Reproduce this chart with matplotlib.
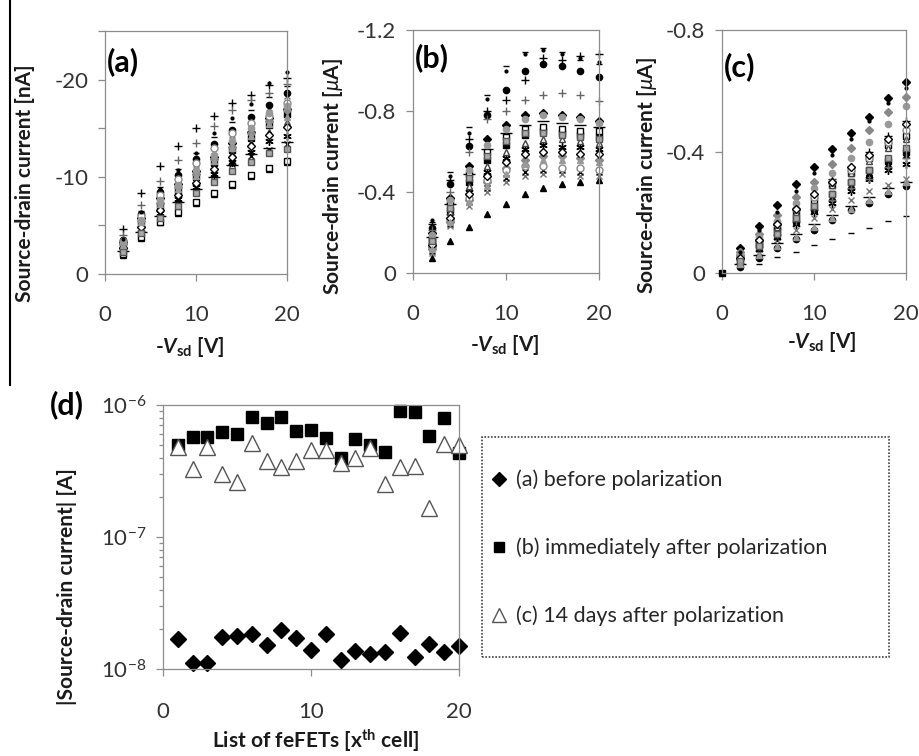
#!/usr/bin/env python3
"""feFET source-drain current: output curves (a)-(c) and cell-by-cell summary (d)."""
import numpy as np
import matplotlib
matplotlib.use("Agg")
import matplotlib.pyplot as plt
from matplotlib.patches import Rectangle
from matplotlib.lines import Line2D
from matplotlib.ticker import FixedLocator, FuncFormatter, LogLocator, NullFormatter

plt.rcParams["font.family"] = ["Lato", "DejaVu Sans"]
plt.rcParams["axes.unicode_minus"] = False
plt.rcParams["mathtext.fontset"] = "custom"
plt.rcParams["mathtext.rm"] = "Lato"
plt.rcParams["mathtext.it"] = "Lato:italic"
plt.rcParams["mathtext.bf"] = "Lato:bold"
plt.rcParams["mathtext.bfit"] = "Lato:bold:italic"

# ---- data (magnitudes; the panels plot them as negative currents) ----
VSD = [2, 4, 6, 8, 10, 12, 14, 16, 18, 20]
VSD_C = [0, 2, 4, 6, 8, 10, 12, 14, 16, 18, 20]

# (a) before polarization, nA, one row per cell
A_CURRENT_NA = [
    [3.3, 5.8, 7.8, 9.3, 10.6, 12.0, 13.5, 14.6, 16.0, 17.0],
    [3.0, 5.2, 7.1, 8.6, 10.0, 11.4, 12.8, 14.0, 15.3, 16.5],
    [2.0, 3.7, 5.3, 6.3, 7.3, 8.2, 9.2, 10.1, 10.8, 11.5],
    [2.9, 5.4, 7.5, 9.2, 10.8, 12.6, 14.3, 15.8, 17.1, 18.3],
    [2.6, 4.6, 6.3, 7.7, 9.0, 10.3, 11.5, 12.6, 13.7, 14.2],
    [3.5, 6.2, 8.4, 10.2, 11.8, 13.4, 14.8, 16.2, 17.4, 18.6],
    [4.6, 8.3, 11.1, 13.2, 15.0, 16.3, 17.6, 18.4, 19.4, 20.2],
    [3.7, 6.5, 8.9, 10.8, 12.5, 14.1, 15.6, 16.9, 18.2, 19.3],
    [2.4, 4.3, 6.0, 7.4, 8.7, 10.0, 11.2, 12.3, 13.0, 13.6],
    [3.1, 5.5, 7.3, 8.9, 10.3, 11.8, 13.1, 14.5, 15.7, 16.9],
    [2.1, 3.8, 5.4, 6.4, 7.4, 8.3, 9.3, 10.2, 10.9, 11.6],
    [2.8, 5.0, 6.8, 8.3, 9.7, 11.0, 12.3, 13.5, 14.6, 15.6],
    [2.5, 4.5, 6.2, 7.6, 8.9, 10.2, 11.3, 12.1, 12.8, 13.4],
    [3.4, 6.0, 8.1, 9.8, 11.4, 13.0, 14.5, 15.5, 16.3, 17.6],
    [4.0, 7.1, 9.6, 11.7, 13.5, 15.2, 16.9, 17.9, 18.6, 19.5],
    [3.2, 5.6, 7.6, 9.2, 10.7, 12.2, 13.7, 15.0, 16.6, 17.3],
    [2.7, 4.8, 6.6, 8.1, 9.4, 10.8, 12.0, 13.2, 14.3, 15.1],
    [2.3, 4.2, 5.8, 7.0, 8.3, 9.5, 10.6, 11.5, 12.4, 12.9],
    [3.0, 5.3, 7.2, 8.7, 10.1, 11.6, 13.0, 14.2, 15.4, 16.2],
    [3.6, 6.4, 8.7, 10.7, 12.4, 14.5, 16.0, 17.5, 19.6, 20.8],
]

# (b) immediately after polarization, uA
B_CURRENT_UA = [
    [0.20, 0.37, 0.53, 0.66, 0.73, 0.78, 0.79, 0.78, 0.77, 0.75],
    [0.16, 0.31, 0.45, 0.56, 0.63, 0.68, 0.70, 0.69, 0.68, 0.67],
    [0.074, 0.156, 0.225, 0.29, 0.34, 0.39, 0.42, 0.44, 0.45, 0.46],
    [0.10, 0.23, 0.33, 0.40, 0.45, 0.48, 0.49, 0.49, 0.48, 0.48],
    [0.14, 0.28, 0.40, 0.50, 0.57, 0.61, 0.63, 0.62, 0.62, 0.61],
    [0.22, 0.44, 0.625, 0.78, 0.905, 1.00, 1.03, 1.02, 1.00, 0.97],
    [0.24, 0.46, 0.66, 0.80, 0.855, 0.955, 1.06, 1.05, 1.07, 1.08],
    [0.25, 0.50, 0.72, 0.88, 1.02, 1.09, 1.11, 1.09, 1.05, 1.03],
    [0.18, 0.34, 0.49, 0.61, 0.69, 0.73, 0.75, 0.74, 0.73, 0.72],
    [0.12, 0.25, 0.36, 0.45, 0.52, 0.56, 0.58, 0.58, 0.57, 0.56],
    [0.17, 0.35, 0.49, 0.60, 0.67, 0.71, 0.72, 0.71, 0.70, 0.70],
    [0.15, 0.30, 0.43, 0.53, 0.60, 0.64, 0.66, 0.66, 0.65, 0.64],
    [0.11, 0.24, 0.35, 0.42, 0.47, 0.50, 0.51, 0.51, 0.50, 0.50],
    [0.13, 0.26, 0.37, 0.46, 0.51, 0.53, 0.53, 0.52, 0.52, 0.51],
    [0.21, 0.40, 0.60, 0.76, 0.80, 0.855, 0.88, 0.89, 0.88, 0.85],
    [0.19, 0.36, 0.51, 0.63, 0.71, 0.76, 0.78, 0.77, 0.76, 0.74],
    [0.14, 0.27, 0.39, 0.48, 0.55, 0.59, 0.60, 0.60, 0.59, 0.59],
    [0.16, 0.32, 0.47, 0.58, 0.65, 0.69, 0.69, 0.68, 0.67, 0.66],
    [0.12, 0.25, 0.35, 0.43, 0.49, 0.54, 0.56, 0.56, 0.56, 0.55],
    [0.26, 0.48, 0.69, 0.86, 1.00, 1.08, 1.10, 1.08, 1.06, 1.04],
]

# (c) 14 days after polarization, uA (first column is Vsd = 0)
C_CURRENT_UA = [
    [None, 0.082, 0.156, 0.225, 0.293, 0.35, 0.408, 0.462, 0.515, 0.575, 0.63],
    [0.0, 0.05, 0.10, 0.14, 0.18, 0.22, 0.26, 0.30, 0.34, 0.37, 0.40],
    [None, 0.04, 0.09, 0.13, 0.17, 0.21, 0.25, 0.29, 0.33, 0.36, 0.39],
    [None, 0.03, 0.07, 0.11, 0.14, 0.18, 0.21, 0.24, 0.27, 0.29, 0.31],
    [None, 0.04, 0.08, 0.12, 0.16, 0.20, 0.23, 0.27, 0.31, 0.34, 0.36],
    [None, 0.02, 0.05, 0.082, 0.113, 0.142, 0.173, 0.206, 0.232, 0.26, 0.287],
    [None, 0.06, 0.11, 0.16, 0.21, 0.26, 0.31, 0.35, 0.40, 0.45, 0.50],
    [None, 0.016, 0.03, 0.052, 0.069, 0.091, 0.112, 0.131, 0.148, 0.172, 0.188],
    [None, 0.03, 0.06, 0.10, 0.13, 0.16, 0.19, 0.22, 0.25, 0.28, 0.30],
    [None, 0.07, 0.13, 0.19, 0.25, 0.30, 0.36, 0.41, 0.47, 0.53, 0.58],
    [None, 0.05, 0.10, 0.15, 0.20, 0.24, 0.29, 0.33, 0.38, 0.42, 0.45],
    [None, 0.05, 0.10, 0.15, 0.20, 0.25, 0.29, 0.33, 0.37, 0.41, 0.44],
    [None, 0.04, 0.08, 0.12, 0.17, 0.21, 0.25, 0.29, 0.33, 0.37, 0.41],
    [None, 0.06, 0.11, 0.16, 0.21, 0.25, 0.30, 0.34, 0.38, 0.43, 0.47],
    [None, 0.05, 0.09, 0.13, 0.17, 0.21, 0.24, 0.28, 0.31, 0.35, 0.38],
    [None, 0.06, 0.12, 0.17, 0.23, 0.28, 0.33, 0.38, 0.43, 0.49, 0.55],
    [None, 0.05, 0.11, 0.16, 0.21, 0.26, 0.30, 0.35, 0.39, 0.44, 0.49],
    [None, 0.04, 0.09, 0.13, 0.18, 0.22, 0.26, 0.30, 0.34, 0.38, 0.41],
    [None, 0.03, 0.06, 0.09, 0.12, 0.15, 0.18, 0.21, 0.24, 0.27, 0.30],
    [None, 0.07, 0.14, 0.20, 0.27, 0.33, 0.39, 0.44, 0.50, 0.56, 0.61],
]

# (d) |I_sd| per cell, A
CELLS = list(range(1, 21))
D_BEFORE = [1.70e-8, 1.12e-8, 1.12e-8, 1.74e-8, 1.77e-8, 1.85e-8, 1.51e-8, 1.99e-8,
            1.72e-8, 1.40e-8, 1.85e-8, 1.18e-8, 1.38e-8, 1.31e-8, 1.35e-8, 1.88e-8,
            1.23e-8, 1.55e-8, 1.34e-8, 1.50e-8]
D_IMMEDIATE = [5.0e-7, 5.75e-7, 5.7e-7, 6.2e-7, 6.0e-7, 8.15e-7, 7.26e-7, 8.1e-7,
               6.38e-7, 6.45e-7, 5.58e-7, 3.94e-7, 5.5e-7, 4.97e-7, 4.42e-7, 9.0e-7,
               8.9e-7, 5.8e-7, 8.0e-7, 4.35e-7]
D_14DAYS = [4.83e-7, 3.3e-7, 4.8e-7, 2.99e-7, 2.59e-7, 5.18e-7, 3.78e-7, 3.4e-7,
            3.78e-7, 4.6e-7, 4.6e-7, 3.65e-7, 4.0e-7, 4.7e-7, 2.5e-7, 3.4e-7,
            3.45e-7, 1.66e-7, 5.05e-7, 4.97e-7]
D_LABELS = ["(a) before polarization",
            "(b) immediately after polarization",
            "(c) 14 days after polarization"]

# Excel-like marker cycle, one per cell
STYLES = [
    dict(marker="D", mfc="k", mec="k", ms=4),
    dict(marker="s", mfc="k", mec="k", ms=4),
    dict(marker="^", mfc="k", mec="k", ms=5),
    dict(marker="x", mfc="none", mec="#777777", ms=5),
    dict(marker=(6, 2, 0), mfc="none", mec="k", ms=6),
    dict(marker="o", mfc="k", mec="k", ms=4.5),
    dict(marker="+", mfc="none", mec="k", ms=6),
    dict(marker="_", mfc="none", mec="k", ms=5),
    dict(marker="_", mfc="none", mec="k", ms=8),
    dict(marker="D", mfc="#888888", mec="#888888", ms=4),
    dict(marker="s", mfc="white", mec="k", ms=4.5),
    dict(marker="^", mfc="white", mec="#444444", ms=5),
    dict(marker="x", mfc="none", mec="k", ms=5),
    dict(marker="o", mfc="white", mec="#888888", ms=5),
    dict(marker="+", mfc="none", mec="#666666", ms=6),
    dict(marker="o", mfc="#999999", mec="#999999", ms=4.5),
    dict(marker="D", mfc="white", mec="k", ms=4),
    dict(marker="s", mfc="#aaaaaa", mec="#555555", ms=4.5),
    dict(marker="^", mfc="#999999", mec="#999999", ms=5),
    dict(marker=".", mfc="k", mec="k", ms=4),
]

W, H = 920, 756
SPINE = "#8c8c8c"
TICKTXT = "#333333"
LABEL = "#1a1a1a"


def box(left, top, right, bottom):
    return [left / W, 1 - bottom / H, (right - left) / W, (bottom - top) / H]


def style_axes(ax, xpad=20):
    for s in ax.spines.values():
        s.set_color(SPINE)
        s.set_linewidth(0.9)
    ax.tick_params(which="both", direction="out", color=SPINE, labelcolor=TICKTXT,
                   labelsize=16, width=0.9)
    ax.tick_params(axis="x", which="major", length=5, pad=xpad)
    ax.tick_params(axis="y", which="major", length=5, pad=7)


def curve_panel(ax, vsd, data, ymax, yticks, fmt, tag, tag_y, ylabel, ylab_xy, xlab_xy):
    for vals, st in zip(data, STYLES):
        ax.plot(vsd, -np.array(vals, dtype=float), linestyle="none",
                markeredgewidth=1.0, clip_on=False, **st)
    ax.set_xlim(0, 20)
    ax.set_ylim(0, -ymax)
    ax.xaxis.set_major_locator(FixedLocator([0, 10, 20]))
    ax.yaxis.set_major_locator(FixedLocator(yticks))
    ax.yaxis.set_major_formatter(FuncFormatter(fmt))
    style_axes(ax, xpad=17)
    ax.text(0.012, tag_y, tag, transform=ax.transAxes, fontsize=22,
            fontweight="bold", va="center", ha="left", color="k")
    ax.set_ylabel(ylabel, fontsize=15, fontweight="bold", color=LABEL, va="center")
    ax.yaxis.set_label_coords(*ylab_xy)
    ax.set_xlabel(r"-$\mathbfit{V}_{\mathbf{sd}}$ [V]", fontsize=15,
                  fontweight="bold", color=LABEL, va="center")
    ax.xaxis.set_label_coords(*xlab_xy)


def fmt_a(v, pos):
    if round(v) % 10:
        return ""
    return "0" if v == 0 else f"{v:.0f}"


def fmt_bc(v, pos):
    return "0" if abs(v) < 1e-9 else f"{v:.1f}"


fig = plt.figure(figsize=(W / 100, H / 100), dpi=100)

ax_a = fig.add_axes(box(105, 31, 287, 274))
curve_panel(ax_a, VSD, A_CURRENT_NA, 25, [0, -5, -10, -15, -20, -25], fmt_a,
            "(a)", 0.875, "Source-drain current [nA]", (-0.44, 0.374), (0.467, -0.30))

ax_b = fig.add_axes(box(413, 30, 599, 273))
curve_panel(ax_b, VSD, B_CURRENT_UA, 1.2, [0, -0.4, -0.8, -1.2], fmt_bc,
            "(b)", 0.885, r"Source-drain current [$\mu$A]", (-0.43, 0.395), (0.495, -0.296))

ax_c = fig.add_axes(box(722, 30, 906, 273))
curve_panel(ax_c, VSD_C, C_CURRENT_UA, 0.8, [0, -0.4, -0.8], fmt_bc,
            "(c)", 0.85, r"Source-drain current [$\mu$A]", (-0.41, 0.403), (0.54, -0.284))

# (d) summary on log scale
ax_d = fig.add_axes(box(163, 405, 459, 669))
ax_d.set_yscale("log")
h_before, = ax_d.plot(CELLS, D_BEFORE, linestyle="none", marker="D", ms=8,
                      mfc="k", mec="k", clip_on=False)
h_imm, = ax_d.plot(CELLS, D_IMMEDIATE, linestyle="none", marker="s", ms=9,
                   mfc="k", mec="k", clip_on=False)
h_14, = ax_d.plot(CELLS, D_14DAYS, linestyle="none", marker="^", ms=12,
                  mfc="white", mec="#555555", markeredgewidth=1.0, clip_on=False)
ax_d.set_xlim(0, 20)
ax_d.set_ylim(1e-8, 1e-6)
ax_d.xaxis.set_major_locator(FixedLocator([0, 10, 20]))
ax_d.yaxis.set_major_locator(LogLocator(base=10, numticks=5))
ax_d.yaxis.set_minor_locator(LogLocator(base=10, subs=np.arange(2, 10), numticks=20))
ax_d.yaxis.set_minor_formatter(NullFormatter())
ax_d.yaxis.set_major_formatter(
    FuncFormatter(lambda v, p: r"$10^{%d}$" % round(np.log10(v))))
style_axes(ax_d, xpad=19)
ax_d.tick_params(axis="y", which="minor", length=3)
ax_d.set_ylabel("|Source-drain current| [A]", fontsize=15, fontweight="bold",
                color=LABEL, va="center")
ax_d.yaxis.set_label_coords(-0.324, 0.314)
ax_d.set_xlabel(r"List of feFETs [x$^{\mathbf{th}}$ cell]", fontsize=15,
                fontweight="bold", color=LABEL, va="center")
ax_d.xaxis.set_label_coords(0.517, -0.27)
fig.text(50 / W, 1 - 405 / H, "(d)", fontsize=22, fontweight="bold",
         va="center", ha="left", color="k")

# legend with a dotted box
leg = fig.legend([h_before, h_imm, h_14], D_LABELS, loc="center left",
                 bbox_to_anchor=(489 / W, 1 - 548 / H), frameon=False,
                 fontsize=15.5, labelspacing=2.2, handlelength=0.9,
                 handletextpad=0.35, borderpad=0, borderaxespad=0,
                 markerscale=0.85, numpoints=1)
for t in leg.get_texts():
    t.set_color("#262626")
fig.add_artist(Rectangle((482 / W, 1 - 657 / H), 407 / W, 220 / H,
                         transform=fig.transFigure, fill=False,
                         edgecolor="#444444", linewidth=1.2, linestyle=(0, (1, 1))))

# left rule left over from the page layout
fig.add_artist(Line2D([10 / W, 10 / W], [1.0, 1 - 385 / H],
                      transform=fig.transFigure, color="k", linewidth=1.5))

fig.savefig("out.png", dpi=100)
plt.close(fig)
